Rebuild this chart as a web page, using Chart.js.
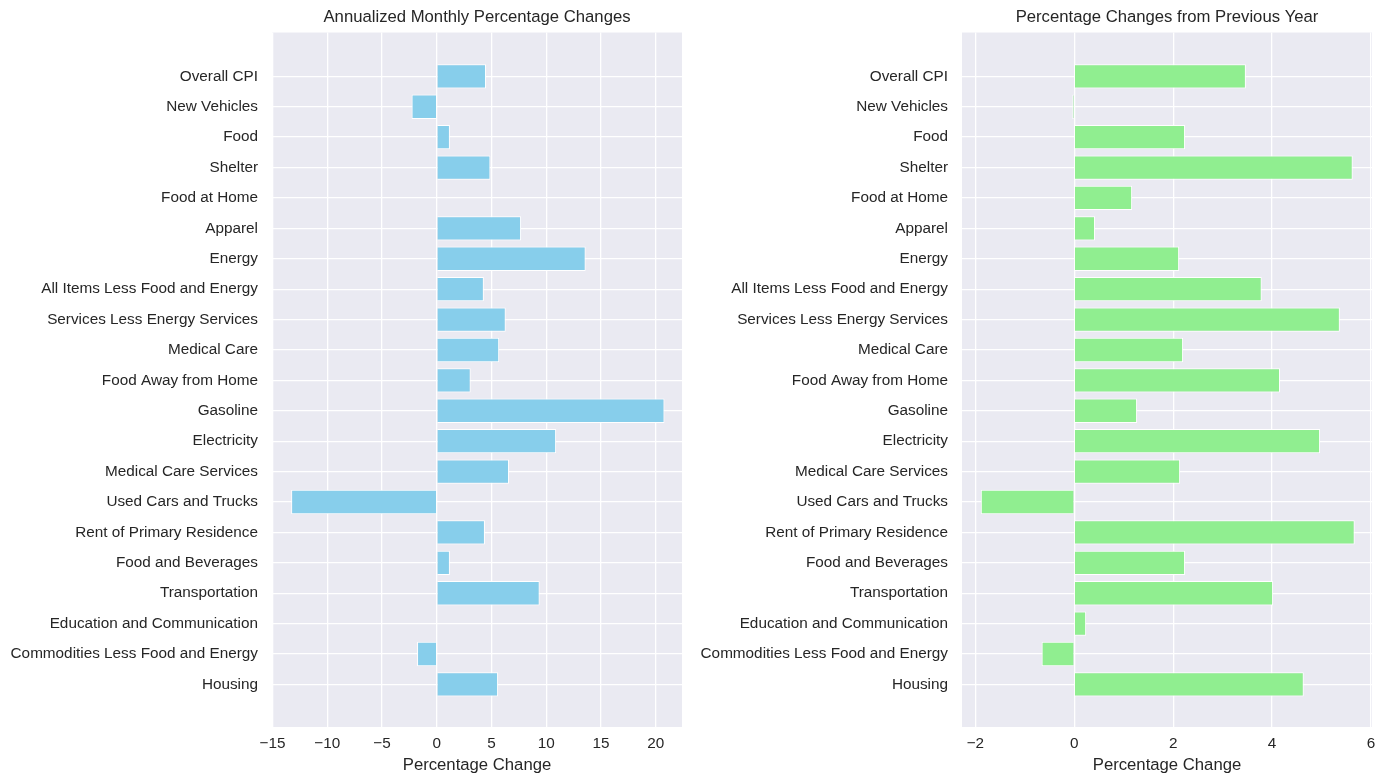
<!DOCTYPE html>
<html>
<head>
<meta charset="utf-8">
<script src="https://cdn.jsdelivr.net/npm/chart.js@4"></script>
<style>
  body { margin: 0; background: #fff; }
  .box { position: absolute; top: 0; width: 692px; height: 784px; }
  #leftBox { left: 0; }
  #rightBox { left: 692px; }
</style>
</head>
<body>
<div class="box" id="leftBox"><canvas id="monthlyChart"></canvas></div>
<div class="box" id="rightBox"><canvas id="yearlyChart"></canvas></div>
<script>
// categories, top to bottom
const categories = [
  'Overall CPI', 'New Vehicles', 'Food', 'Shelter', 'Food at Home', 'Apparel', 'Energy',
  'All Items Less Food and Energy', 'Services Less Energy Services', 'Medical Care',
  'Food Away from Home', 'Gasoline', 'Electricity', 'Medical Care Services',
  'Used Cars and Trucks', 'Rent of Primary Residence', 'Food and Beverages',
  'Transportation', 'Education and Communication', 'Commodities Less Food and Energy', 'Housing'
];

const monthlyChanges = [
  4.5, -2.3, 1.2, 4.9, 0.0, 7.7, 13.6, 4.3, 6.3, 5.7,
  3.1, 20.8, 10.9, 6.6, -13.3, 4.4, 1.2, 9.4, 0.0, -1.8, 5.6
];

const yearlyChanges = [
  3.47, -0.04, 2.24, 5.63, 1.17, 0.42, 2.12, 3.79, 5.37, 2.20,
  4.16, 1.27, 4.97, 2.14, -1.89, 5.67, 2.24, 4.02, 0.24, -0.66, 4.64
];

const FONT = "'Liberation Sans', Arial, sans-serif";
const TEXT = '#262626';

function minusSign(v) {
  return String(v).replace('-', '\u2212');
}

function makeChart(canvasId, title, values, color, xMin, xMax, xStep, yAxisWidth, padRight) {
  return new Chart(document.getElementById(canvasId), {
    type: 'bar',
    data: {
      datasets: [{
        data: values.map((v, i) => ({ x: v, y: i })),
        backgroundColor: color,
        borderColor: '#ffffff',
        borderWidth: 1,
        barPercentage: 0.8,
        categoryPercentage: 1.0
      }]
    },
    options: {
      indexAxis: 'y',
      responsive: true,
      maintainAspectRatio: false,
      animation: false,
      devicePixelRatio: 1,
      layout: { padding: { left: 0, right: padRight, top: 0, bottom: 0 } },
      plugins: {
        legend: { display: false },
        tooltip: { enabled: false },
        title: {
          display: true,
          text: title,
          color: TEXT,
          fullSize: false,
          font: { family: FONT, size: 16.7, weight: 'normal' },
          padding: { top: 7, bottom: 5.5 }
        }
      },
      scales: {
        x: {
          type: 'linear',
          min: xMin,
          max: xMax,
          ticks: {
            stepSize: xStep,
            includeBounds: false,
            color: TEXT,
            padding: 8,
            font: { family: FONT, size: 15.3 },
            callback: v => minusSign(v)
          },
          grid: { color: '#ffffff', lineWidth: 1.3, drawTicks: false },
          border: { display: false },
          title: {
            display: true,
            text: 'Percentage Change',
            color: TEXT,
            font: { family: FONT, size: 16.7 },
            padding: { top: 0, bottom: 9 }
          },
          afterFit: scale => { scale.height = 57; }
        },
        y: {
          type: 'linear',
          reverse: true,
          offset: false,
          min: -1.44,
          max: 21.40,
          afterBuildTicks: scale => {
            scale.ticks = categories.map((c, i) => ({ value: i }));
          },
          ticks: {
            autoSkip: false,
            color: TEXT,
            padding: 14,
            font: { family: FONT, size: 15.3 },
            callback: v => categories[v]
          },
          grid: { color: '#ffffff', lineWidth: 1.3, drawTicks: false, offset: false },
          border: { display: false },
          afterFit: scale => { scale.width = yAxisWidth; }
        }
      }
    },
    plugins: [{
      id: 'plotBackground',
      beforeDraw(chart) {
        const a = chart.chartArea;
        const ctx = chart.ctx;
        ctx.save();
        ctx.fillStyle = '#EAEAF2';
        ctx.fillRect(a.left, a.top, a.right - a.left, a.bottom - a.top);
        ctx.restore();
      }
    }]
  });
}

makeChart('monthlyChart', 'Annualized Monthly Percentage Changes', monthlyChanges,
  '#87CEEB', -15.05, 22.4, 5, 272, 10);
makeChart('yearlyChart', 'Percentage Changes from Previous Year', yearlyChanges,
  '#90EE90', -2.27, 6.02, 2, 270, 12);
</script>
</body>
</html>
